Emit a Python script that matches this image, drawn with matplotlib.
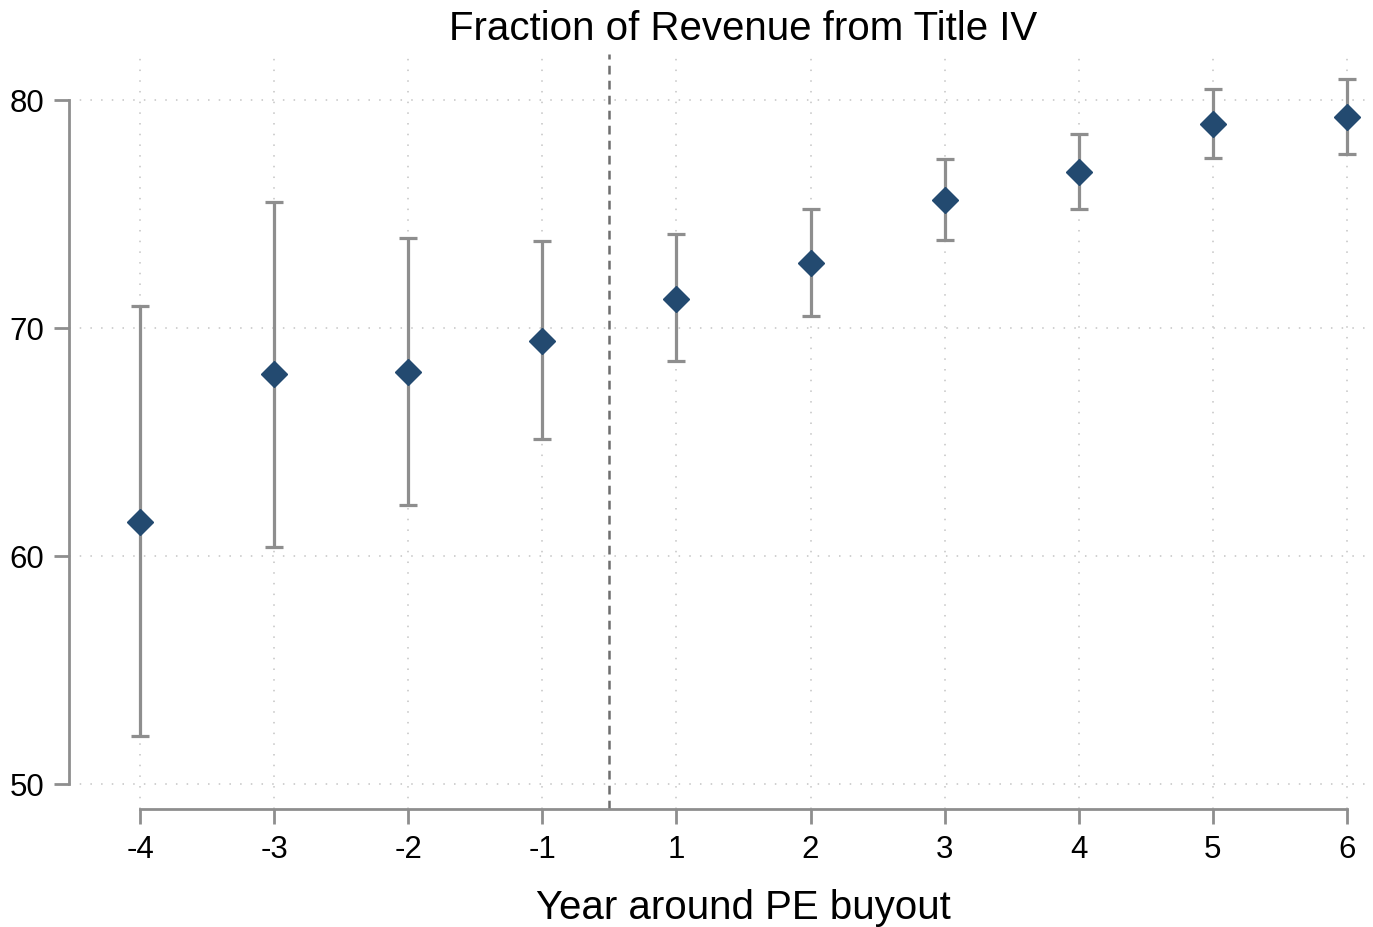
import matplotlib.pyplot as plt
import numpy as np

plt.rcParams['font.family'] = ['Liberation Sans', 'DejaVu Sans']

years = ['-4', '-3', '-2', '-1', '1', '2', '3', '4', '5', '6']
coef = [61.5, 67.95, 68.07, 69.43, 71.27, 72.85, 75.6, 76.84, 78.95, 79.25]
ci_low = [52.1, 60.4, 62.24, 65.1, 68.55, 70.5, 73.86, 75.2, 77.46, 77.63]
ci_high = [70.96, 75.5, 73.95, 73.8, 74.1, 75.2, 77.4, 78.5, 80.48, 80.92]

x = np.arange(len(years))
coef = np.array(coef)
err = [coef - np.array(ci_low), np.array(ci_high) - coef]

fig = plt.figure(figsize=(13.73, 9.28), dpi=100)
ax = fig.add_axes([0.0503, 0.1272, 0.9497, 0.8135])

grey = '#8e8e8e'
ax.errorbar(x, coef, yerr=err, fmt='none', ecolor=grey, elinewidth=2.3,
            capsize=6.5, capthick=2.3, zorder=2)
ax.plot(x, coef, 'D', color='#234a70', markersize=13, zorder=3)

ax.axvline(3.5, color='#6e6e6e', linestyle=(0, (3.5, 2.5)), linewidth=1.8, zorder=1)

ax.set_xlim(-0.53, 9.195)
ax.set_ylim(48.9, 82.0)
ax.set_xticks(x)
ax.set_xticklabels(years)
ax.set_yticks([50, 60, 70, 80])

ax.grid(True, color='#c4c4c4', linestyle=(0, (1, 6)), linewidth=1.1, zorder=0)

for s in ['top', 'right']:
    ax.spines[s].set_visible(False)
ax.spines['left'].set_bounds(50, 80)
ax.spines['bottom'].set_bounds(0, 9)
for s in ['left', 'bottom']:
    ax.spines[s].set_color(grey)
    ax.spines[s].set_linewidth(2)
ax.tick_params(axis='both', color=grey, width=2, length=11, labelsize=22.5, pad=7)

# title and x label are centred over the x-axis line, not the whole axes
ax.set_title('Fraction of Revenue from Title IV', fontsize=29, pad=11, x=0.517)
ax.set_xlabel('Year around PE buyout', fontsize=29, labelpad=17, x=0.517)

fig.savefig('out.png', dpi=100)
